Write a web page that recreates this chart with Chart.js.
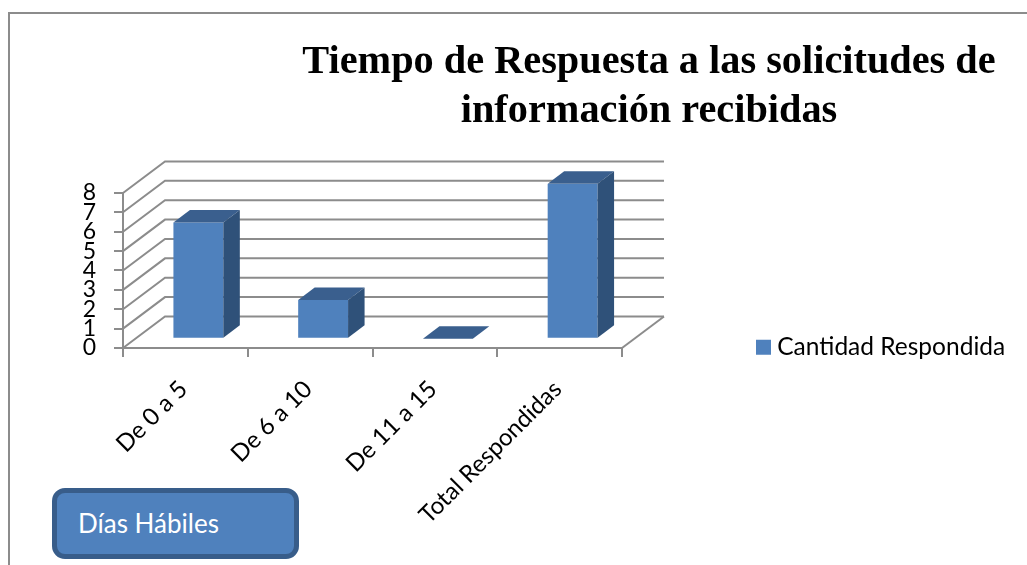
<!DOCTYPE html>
<html lang="es">
<head>
<meta charset="utf-8">
<title>Tiempo de Respuesta</title>
<script src="https://cdn.jsdelivr.net/npm/chart.js@4"></script>
<style>
    html, body { margin: 0; padding: 0; background: #fff; overflow: hidden; }
    #wrap { position: relative; width: 1027px; height: 565px; }
    #grafico { position: absolute; left: 0; top: 0; }
    #frame { position: absolute; left: 8px; top: 12px; right: 0; bottom: 0; border-left: 2px solid #8c8c8c; border-top: 2px solid #8c8c8c; }
    #nota {
        position: absolute; left: 52px; top: 488px; width: 247px; height: 71px; box-sizing: border-box;
        background: #4f81bd; border: 5px solid #385d8a; border-radius: 13px;
        color: #fff; font: 26px Lato, sans-serif; line-height: 61px; padding-left: 21px;
    }
</style>
</head>
<body>
<div id="wrap">
    <div id="frame"></div>
    <canvas id="grafico" width="1027" height="565"></canvas>
    <div id="nota">Días Hábiles</div>
</div>
<script>
const titleLines = ['Tiempo de Respuesta a las solicitudes de', 'información recibidas'];
const categories = ['De 0 a 5', 'De 6 a 10', 'De 11 a 15', 'Total Respondidas'];
const seriesName = 'Cantidad Respondida';
const seriesValues = [6, 2, 0, 8];

const gray = '#8c8c8c';
const front = '#4f81bd';
const topFace = '#3a5f8e';
const sideFace = '#2f5179';

// depth of the back wall and of the bars, in pixels
const wallDx = 42, wallDy = -31.5;
const barShiftX = 13, barShiftY = -9.3;
const barDx = 16.5, barDy = -12.5;

const fakeDepth = {
    id: 'fakeDepth',
    afterLayout(chart) {
        // title and legend do not sit where the layout puts them
        chart.titleBlock.left = 271;
        chart.titleBlock.right = 1027;
        const lg = chart.legend;
        const w = lg.width, h = lg.height;
        lg.left = 752; lg.right = 752 + w;
        lg.top = 325; lg.bottom = 325 + h;
    },
    beforeDatasetsDraw(chart) {
        const ctx = chart.ctx, x = chart.scales.x, y = chart.scales.y;
        const left = x.left, right = x.right;
        ctx.save();
        ctx.strokeStyle = gray;
        ctx.lineWidth = 2;
        y.ticks.forEach((t) => {
            const py = y.getPixelForValue(t.value);
            ctx.beginPath();
            ctx.moveTo(left, py);
            ctx.lineTo(left + wallDx, py + wallDy);
            ctx.lineTo(right + wallDx, py + wallDy);
            ctx.stroke();
        });
        const base = y.getPixelForValue(0);
        ctx.beginPath();
        ctx.moveTo(right, base);
        ctx.lineTo(right + wallDx, base + wallDy);
        ctx.stroke();
        ctx.restore();
        ctx.save();
        ctx.translate(barShiftX, barShiftY);
    },
    afterDatasetsDraw(chart) {
        const ctx = chart.ctx;
        chart.getDatasetMeta(0).data.forEach((bar) => {
            const l = bar.x - bar.width / 2, r = bar.x + bar.width / 2;
            ctx.fillStyle = topFace;
            ctx.beginPath();
            ctx.moveTo(l, bar.y);
            ctx.lineTo(l + barDx, bar.y + barDy);
            ctx.lineTo(r + barDx, bar.y + barDy);
            ctx.lineTo(r, bar.y);
            ctx.closePath();
            ctx.fill();
            if (bar.base - bar.y > 0) {
                ctx.fillStyle = sideFace;
                ctx.beginPath();
                ctx.moveTo(r, bar.y);
                ctx.lineTo(r + barDx, bar.y + barDy);
                ctx.lineTo(r + barDx, bar.base + barDy);
                ctx.lineTo(r, bar.base);
                ctx.closePath();
                ctx.fill();
            }
        });
        ctx.restore();
    }
};

new Chart(document.getElementById('grafico'), {
    type: 'bar',
    plugins: [fakeDepth],
    data: {
        labels: categories,
        datasets: [{
            label: seriesName,
            data: seriesValues,
            backgroundColor: front,
            barPercentage: 0.4,
            categoryPercentage: 1
        }]
    },
    options: {
        responsive: false,
        animation: false,
        layout: { padding: { left: 0, top: 0, bottom: 0, right: 405 } },
        plugins: {
            title: {
                display: true,
                text: titleLines,
                color: '#000',
                font: { family: '"Liberation Serif", serif', size: 40.3, weight: 'bold', lineHeight: 1.215 },
                padding: { top: 38, bottom: 57 }
            },
            legend: {
                position: 'chartArea',
                align: 'start',
                labels: {
                    // thin box with a thick stroke: keeps the text close to the swatch
                    boxWidth: 3, boxHeight: 3,
                    padding: 10,
                    color: '#000',
                    font: { family: 'Lato, sans-serif', size: 24.5 },
                    generateLabels(chart) {
                        return [{ text: seriesName, fillStyle: front, strokeStyle: front, lineWidth: 12, datasetIndex: 0 }];
                    }
                }
            },
            tooltip: { enabled: false }
        },
        scales: {
            x: {
                afterFit(s) { s.height = 217; },
                grid: { offset: true, drawOnChartArea: false, tickLength: 9, color: gray, lineWidth: 2 },
                border: { color: gray, width: 2 },
                ticks: {
                    autoSkip: false, maxRotation: 45, minRotation: 45, padding: 18, labelOffset: -2,
                    color: '#000', font: { family: 'Lato, sans-serif', size: 24 }
                }
            },
            y: {
                min: 0, max: 8,
                afterFit(s) { s.width = 123; },
                grid: { drawOnChartArea: false, tickLength: 9, color: gray, lineWidth: 2 },
                border: { color: gray, width: 2 },
                ticks: {
                    autoSkip: false, stepSize: 1, padding: 18,
                    color: '#000', font: { family: 'Lato, sans-serif', size: 23 }
                }
            }
        }
    }
});
</script>
</body>
</html>
